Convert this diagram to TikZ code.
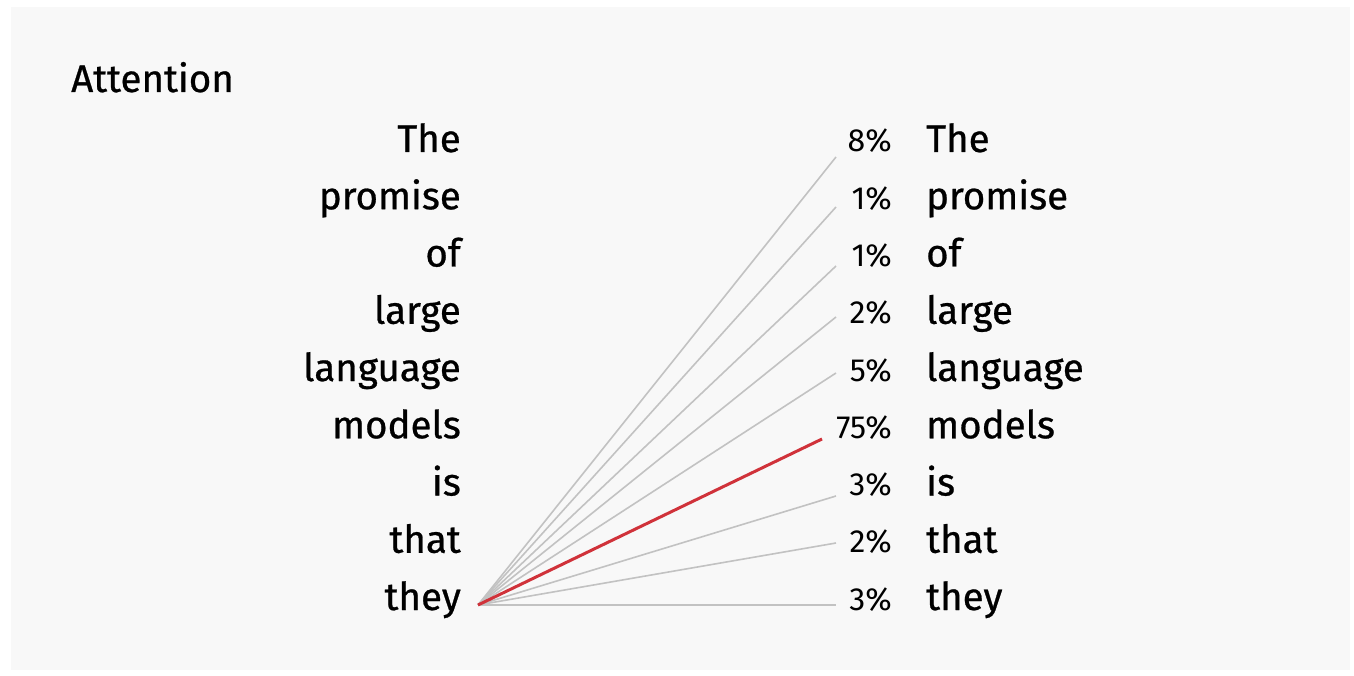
\documentclass[tikz,border=0pt]{standalone}
\usepackage{fontspec}
\setmainfont{Fira Sans}
\newfontfamily\medfont{Fira Sans}[FakeBold=0.7]
\definecolor{bg}{HTML}{F8F8F8}
\definecolor{ln}{HTML}{C2C2C2}
\definecolor{hl}{HTML}{D0323A}
\begin{document}
\begin{tikzpicture}[x=1pt,y=-1pt,
  word/.style={inner sep=0pt,font=\medfont\fontsize{38.5}{38.5}\selectfont},
  pct/.style={inner sep=0pt,font=\fontsize{32}{32}\selectfont},
  wire/.style={draw=ln,line width=1.6pt},
  hot/.style={draw=hl,line width=3pt}]
\useasboundingbox (0,0) rectangle (1354,676);
\fill[bg] (11,7) rectangle (1350,670);
\node[word,anchor=base west] (title) at (71,92) {Attention};
\coordinate (o) at (478,605);
\foreach \i/\w/\p/\ey in {1/The/8\%/157, 2/promise/1\%/207, 3/of/1\%/266, 4/large/2\%/317, 5/language/5\%/373, 6/models/75\%/439, 7/is/3\%/496, 8/that/2\%/543, 9/they/3\%/605}{
  \pgfmathsetmacro{\by}{152+57.25*(\i-1)}
  \node[word,anchor=base east] (l\i) at (461,\by) {\w};
  \node[pct,anchor=base east] (p\i) at (892,\by) {\p};
  \node[word,anchor=base west] (r\i) at (926,\by) {\w};
  \coordinate (e\i) at (836,\ey);
}
\coordinate (e6) at (822,439);
\foreach \i in {1,2,3,4,5,7,8,9} \draw[wire] (o) -- (e\i);
\draw[hot] (o) -- (e6);
\end{tikzpicture}
\end{document}
